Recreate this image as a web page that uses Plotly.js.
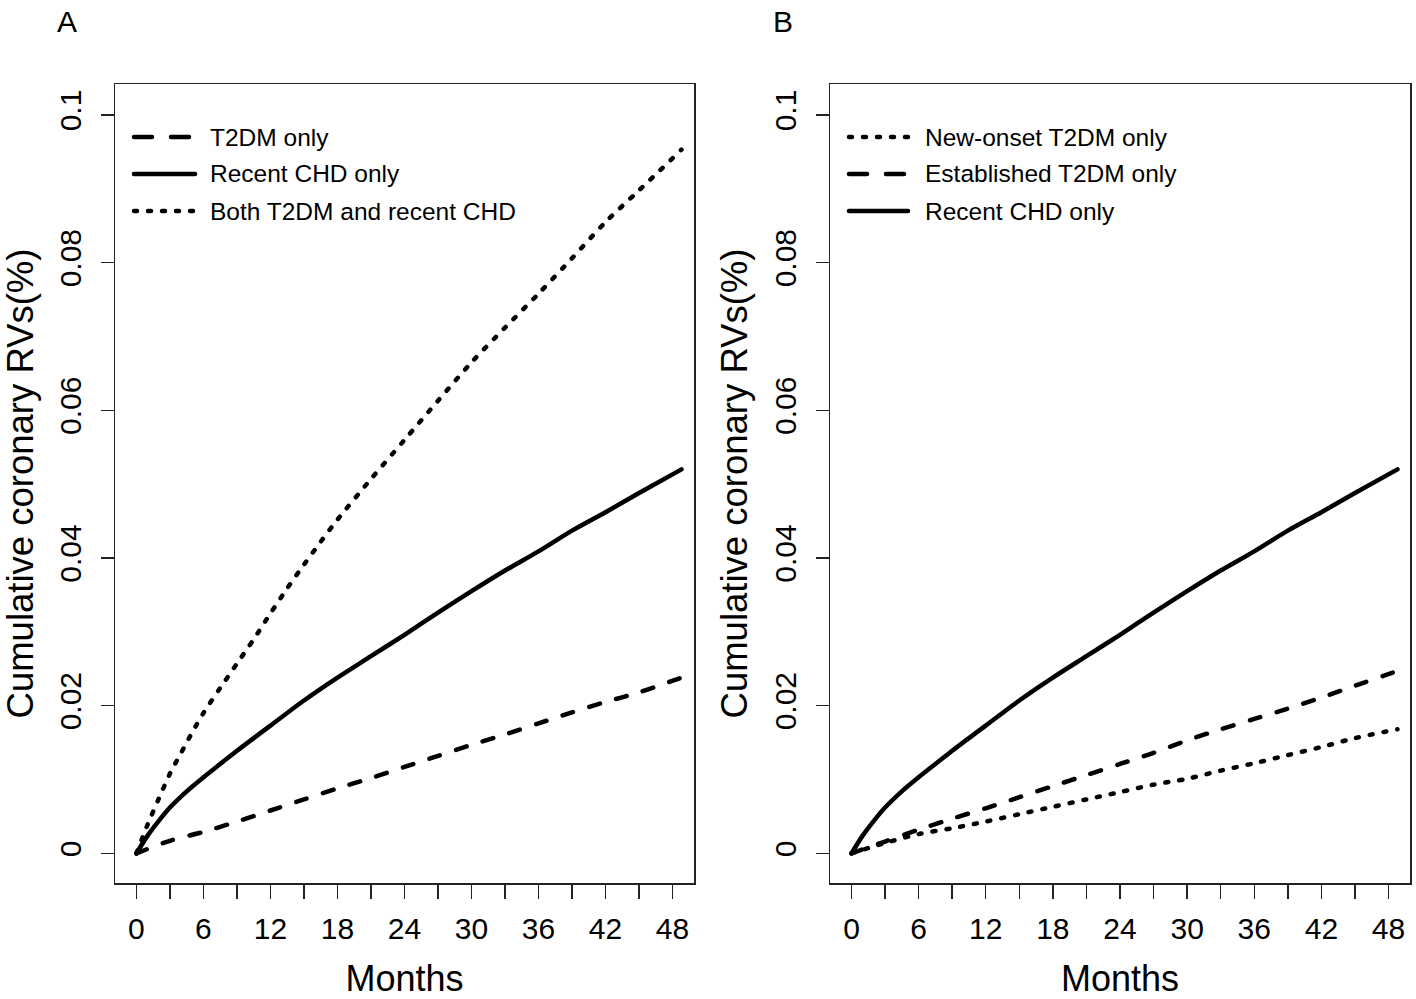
<!DOCTYPE html>
<html>
<head>
<meta charset="utf-8">
<script src="https://cdn.plot.ly/plotly-3.0.1.min.js"></script>
<style>
  html, body { margin: 0; padding: 0; background: #fff; }
  #chart { width: 1416px; height: 999px; }
  .scatterlayer .js-line { stroke-linecap: round !important; stroke-linejoin: round !important; }
  .shapelayer path { stroke-linecap: round !important; }
</style>
</head>
<body>
<div id="chart"></div>
<script>
// ---------- Data ----------
// Panel A
const monthsBothA  = [0, 1, 2, 3, 4, 5, 6, 7.5, 9, 10.5, 12, 13.5, 15, 16.5, 18, 21, 24, 27, 30, 33, 36, 39, 42, 45, 48.8];
const bothA        = [0, 0.0039, 0.0074, 0.0108, 0.0136, 0.0164, 0.0190, 0.0224, 0.0257, 0.0290, 0.0325, 0.0359, 0.0391, 0.0422, 0.0452, 0.0507, 0.0560, 0.0613, 0.0665, 0.0712, 0.0758, 0.0806, 0.0855, 0.0898, 0.0953];

const monthsCHD    = [0, 1, 2, 3, 4.5, 6, 7.5, 9, 10.5, 12, 15, 18, 21, 24, 27, 30, 33, 36, 39, 42, 45, 48.8];
const recentCHD    = [0, 0.0024, 0.0044, 0.0062, 0.0084, 0.0103, 0.0121, 0.0139, 0.0156, 0.0173, 0.0207, 0.0238, 0.0267, 0.0296, 0.0326, 0.0355, 0.0383, 0.0409, 0.0437, 0.0462, 0.0488, 0.0520];

const monthsT2DM   = [0, 3, 6, 9, 12, 15, 18, 21, 24, 27, 30, 33, 36, 39, 42, 45, 48.8];
const t2dmOnlyA    = [0, 0.0017, 0.0029, 0.0043, 0.0058, 0.0073, 0.0088, 0.0102, 0.0117, 0.0132, 0.0147, 0.0161, 0.0176, 0.0191, 0.0205, 0.0218, 0.0238];

// Panel B
const establishedB = [0, 0.0016, 0.0032, 0.0047, 0.0061, 0.0076, 0.0091, 0.0106, 0.0121, 0.0136, 0.0153, 0.0168, 0.0182, 0.0196, 0.0211, 0.0227, 0.0247];
const newOnsetB    = [0, 0.0014, 0.0026, 0.0034, 0.0043, 0.0053, 0.0063, 0.0073, 0.0083, 0.0093, 0.0101, 0.0112, 0.0122, 0.0133, 0.0144, 0.0156, 0.0168];

// Axis ticks
const xTickVals  = [0, 3, 6, 9, 12, 15, 18, 21, 24, 27, 30, 33, 36, 39, 42, 45, 48];
const xTickText  = ['0', '', '6', '', '12', '', '18', '', '24', '', '30', '', '36', '', '42', '', '48'];
const yTickVals  = [0, 0.02, 0.04, 0.06, 0.08, 0.1];
const yTickText  = ['0', '0.02', '0.04', '0.06', '0.08', '0.1'];

const legendA = ['T2DM only', 'Recent CHD only', 'Both T2DM and recent CHD'];
const legendB = ['New-onset T2DM only', 'Established T2DM only', 'Recent CHD only'];
const panelLabels = ['A', 'B'];
const xTitle = 'Months';
const yTitle = 'Cumulative coronary RVs(%)';

// ---------- Styles ----------
const W = 1416, H = 999;
const FONT = 'Liberation Sans, Arial, Helvetica, sans-serif';
const LW = 4.5;
const DASH_CURVE = '11px,17px';
const DOT_CURVE  = '3px,11px';
const DASH_LEG   = '18px,19px';
const DOT_LEG    = '3px,11px';
const px = x => x / W;
const py = y => 1 - y / H;

function line(x, y, dash, xa, ya, name) {
  return { x: x, y: y, type: 'scatter', mode: 'lines', name: name, xaxis: xa, yaxis: ya,
           line: { color: '#000', width: LW, dash: dash, shape: 'spline', smoothing: 0.8 },
           showlegend: false, hoverinfo: 'skip' };
}

const traces = [
  line(monthsT2DM, t2dmOnlyA, DASH_CURVE, 'x', 'y', legendA[0]),
  line(monthsCHD, recentCHD, 'solid', 'x', 'y', legendA[1]),
  line(monthsBothA, bothA, DOT_CURVE, 'x', 'y', legendA[2]),
  line(monthsT2DM, newOnsetB, DOT_CURVE, 'x2', 'y2', legendB[0]),
  line(monthsT2DM, establishedB, DASH_CURVE, 'x2', 'y2', legendB[1]),
  line(monthsCHD, recentCHD, 'solid', 'x2', 'y2', legendB[2])
];

function xAxis(domain, anchor) {
  return {
    domain: domain, anchor: anchor, range: [-1.92, 49.92],
    showline: true, mirror: true, linecolor: '#222', linewidth: 1.5,
    ticks: 'outside', ticklen: 14, tickwidth: 1.5, tickcolor: '#222',
    tickmode: 'array', tickvals: xTickVals, ticktext: xTickText,
    tickfont: { family: FONT, size: 30, color: '#000' },
    ticklabelstandoff: 4,
    showgrid: false, zeroline: false,
    title: { text: xTitle, font: { family: FONT, size: 36, color: '#000' }, standoff: 24 },
    automargin: true
  };
}
function yAxis(domain, anchor) {
  return {
    domain: domain, anchor: anchor, range: [-0.00402, 0.1042],
    showline: true, mirror: true, linecolor: '#222', linewidth: 1.5,
    ticks: 'outside', ticklen: 13, tickwidth: 1.5, tickcolor: '#222',
    tickmode: 'array', tickvals: yTickVals, ticktext: yTickText, tickangle: -90,
    tickfont: { family: FONT, size: 30, color: '#000' },
    ticklabelstandoff: 8,
    showgrid: false, zeroline: false,
    title: { text: yTitle, font: { family: FONT, size: 36.5, color: '#000' }, standoff: 9 },
    automargin: true
  };
}

const yDom = [py(883), py(84)];
const shapes = [];
const annotations = [];
const legendRowsY = [137, 174, 211];

function addLegend(labels, dashes, xl0, xl1, xt) {
  labels.forEach((lab, i) => {
    shapes.push({ type: 'line', xref: 'paper', yref: 'paper', x0: px(xl0), x1: px(xl1),
                  y0: py(legendRowsY[i]), y1: py(legendRowsY[i]),
                  line: { color: '#000', width: LW, dash: dashes[i] } });
    annotations.push({ xref: 'paper', yref: 'paper', x: px(xt), y: py(legendRowsY[i]),
                       xanchor: 'left', yanchor: 'middle', showarrow: false, text: lab,
                       font: { family: FONT, size: 24.5, color: '#000' } });
  });
}
addLegend(legendA, [DASH_LEG, 'solid', DOT_LEG], 134, 195, 208);
addLegend(legendB, [DOT_LEG, DASH_LEG, 'solid'], 849, 908, 923);

[[67, panelLabels[0]], [783, panelLabels[1]]].forEach(([x, t]) => {
  annotations.push({ xref: 'paper', yref: 'paper', x: px(x), y: py(22), xanchor: 'center', yanchor: 'middle',
                     showarrow: false, text: t, font: { family: FONT, size: 30, color: '#000' } });
});

const layout = {
  width: W, height: H,
  margin: { l: 0, r: 0, t: 0, b: 0, pad: 0 },
  paper_bgcolor: '#fff', plot_bgcolor: '#fff',
  showlegend: false,
  xaxis: xAxis([px(115), px(694)], 'y'),
  yaxis: yAxis(yDom, 'x'),
  xaxis2: xAxis([px(830), px(1410)], 'y2'),
  yaxis2: yAxis(yDom, 'x2'),
  shapes: shapes,
  annotations: annotations
};

Plotly.newPlot('chart', traces, layout, { displayModeBar: false, staticPlot: true });
</script>
</body>
</html>
